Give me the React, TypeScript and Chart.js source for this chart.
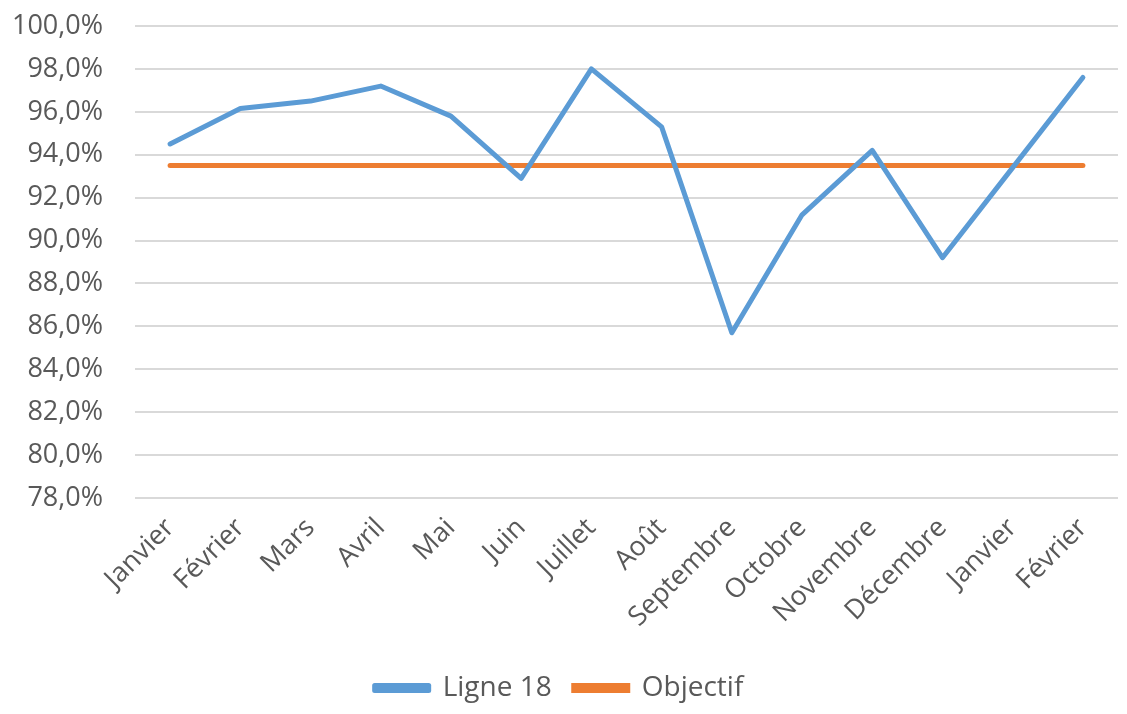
import React, { useEffect, useRef } from "react";
import { Chart, registerables } from "chart.js";

Chart.register(...registerables);

const categories = [
  "Janvier", "Février", "Mars", "Avril", "Mai", "Juin", "Juillet", "Août",
  "Septembre", "Octobre", "Novembre", "Décembre", "Janvier", "Février",
];
const ligne18 = [94.5, 96.15, 96.5, 97.2, 95.8, 92.9, 98.0, 95.3, 85.7, 91.2, 94.2, 89.2, 93.4, 97.6];
const objectif = [93.5, 93.5, 93.5, 93.5, 93.5, 93.5, 93.5, 93.5, 93.5, 93.5, 93.5, 93.5, 93.5, 93.5];
const yMin = 78;
const yMax = 100;
const yStep = 2;

const FONT = "'Open Sans', sans-serif";
const TEXT = "#595959";

export default function App() {
  const ref = useRef<HTMLCanvasElement | null>(null);
  useEffect(() => {
    document.body.style.margin = "0";
    const ctx = ref.current!;
    const chart = new Chart(ctx, {
      type: "line",
      data: {
        labels: categories,
        datasets: [
          {
            label: "Ligne 18",
            data: ligne18,
            borderColor: "#5B9BD5",
            backgroundColor: "#5B9BD5",
            borderWidth: 5,
            pointRadius: 0,
            borderCapStyle: "round",
            borderJoinStyle: "round",
            tension: 0,
          },
          {
            label: "Objectif",
            data: objectif,
            borderColor: "#ED7D31",
            backgroundColor: "#ED7D31",
            borderWidth: 5,
            pointRadius: 0,
            borderCapStyle: "round",
            tension: 0,
          },
        ],
      },
      options: {
        animation: false,
        responsive: false,
        layout: { padding: { top: 6, right: 9, left: 0, bottom: 2 } },
        plugins: {
          tooltip: { enabled: false },
          legend: {
            position: "bottom",
            labels: {
              font: { family: FONT, size: 28 },
              color: TEXT,
              boxWidth: 54,
              boxHeight: 5,
              padding: 22,
            },
          },
        },
        scales: {
          x: {
            offset: true,
            grid: { display: false },
            border: { display: false },
            ticks: {
              font: { family: FONT, size: 27 },
              color: TEXT,
              minRotation: 45,
              maxRotation: 45,
              autoSkip: false,
              padding: 6,
            },
            afterFit: (scale: any) => {
              scale.height = 154;
              scale.paddingTop = 0;
            },
          },
          y: {
            min: yMin,
            max: yMax,
            grid: { color: "#D9D9D9", lineWidth: 2, drawTicks: false },
            border: { display: false },
            ticks: {
              stepSize: yStep,
              font: { family: FONT, size: 27 },
              color: TEXT,
              padding: 32,
              callback: (v: any) => Number(v).toFixed(1).replace(".", ",") + "%",
            },
            afterFit: (scale: any) => {
              scale.width = 135;
              scale.paddingTop = 26;
            },
          },
        },
      },
    });
    return () => chart.destroy();
  }, []);
  return (
    <div style={{ width: 1127, height: 714 }}>
      <canvas ref={ref} width={1127} height={714} />
    </div>
  );
}
